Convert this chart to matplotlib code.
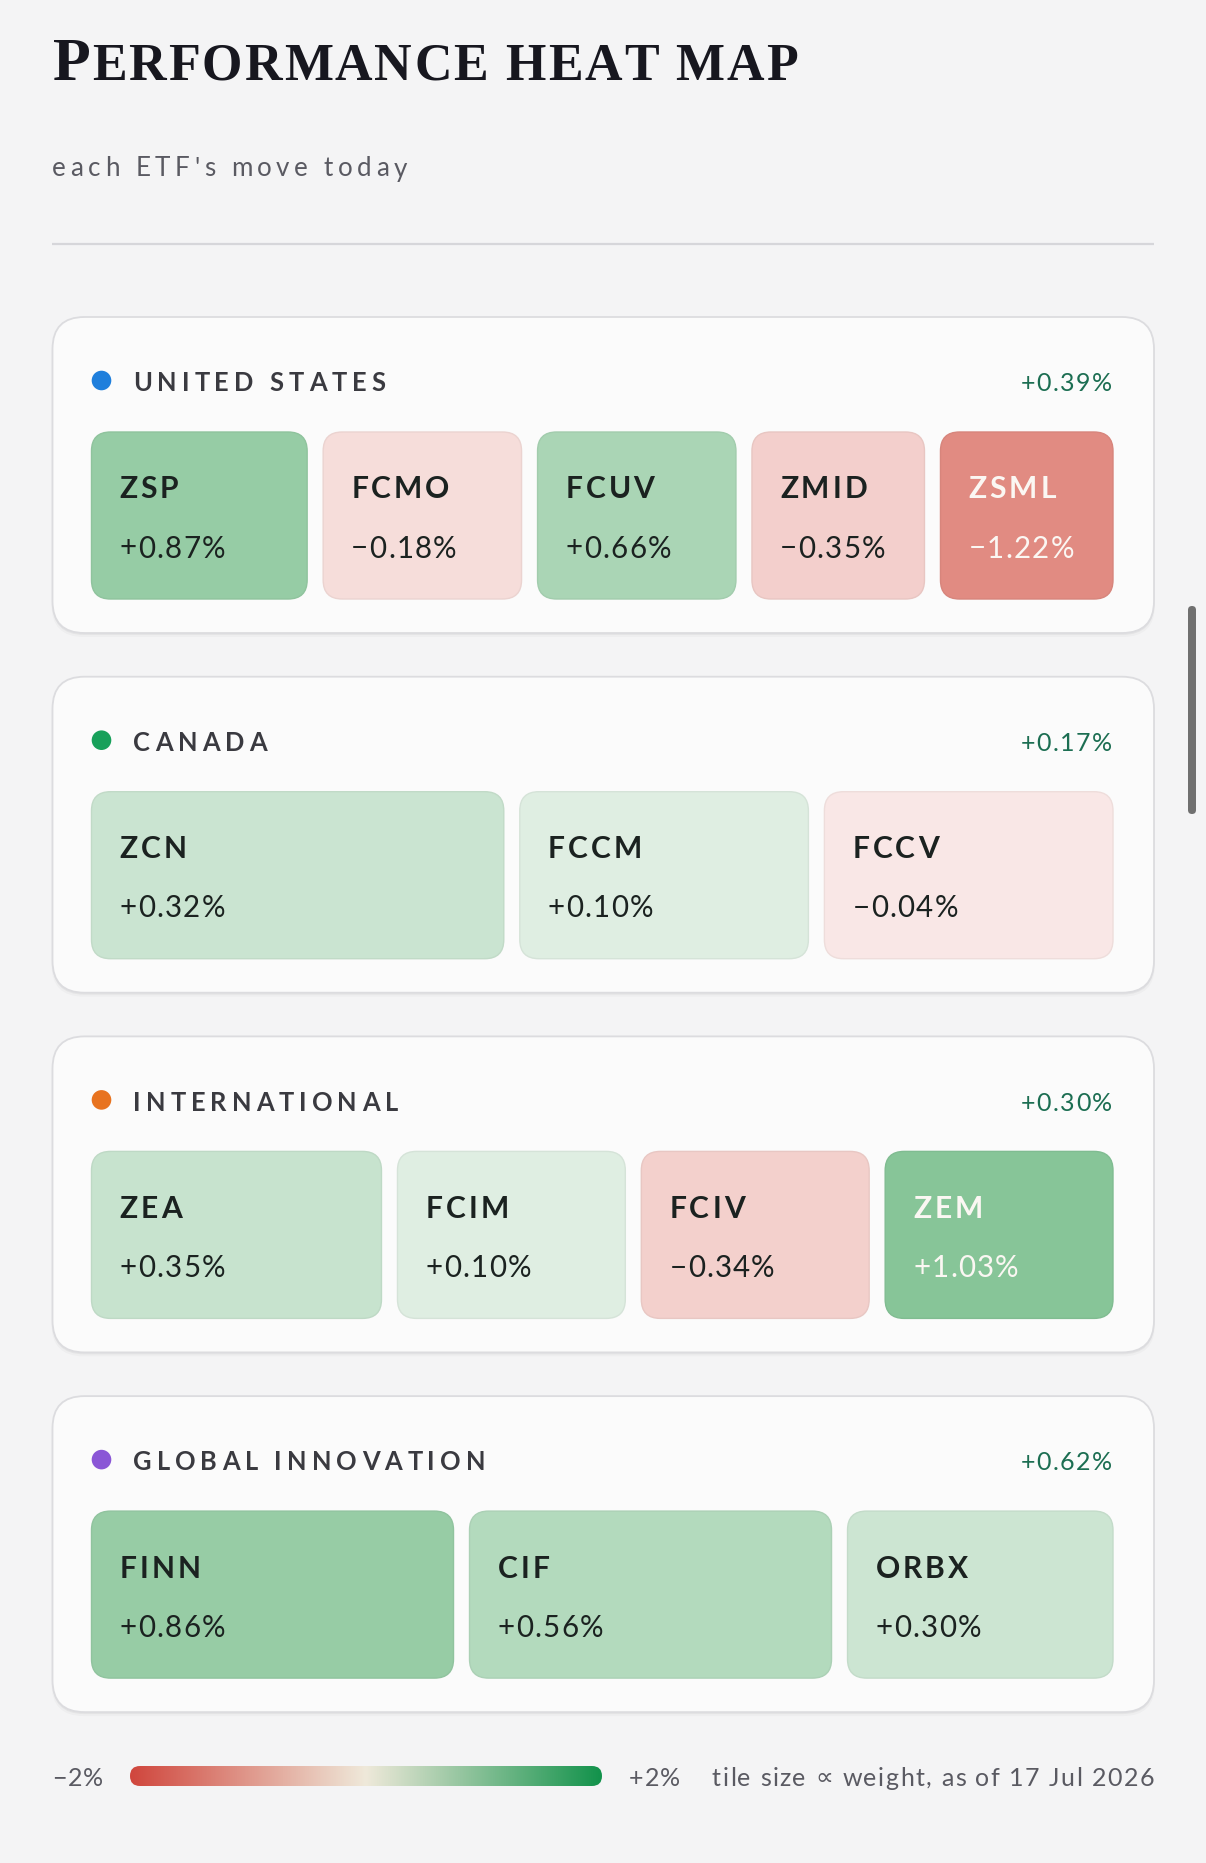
import numpy as np
import matplotlib
matplotlib.use("Agg")
import matplotlib.pyplot as plt
from matplotlib.patches import FancyBboxPatch, Circle
from matplotlib.colors import LinearSegmentedColormap, to_rgb
from matplotlib.font_manager import FontProperties, findfont, get_font

# ---------------- data ----------------
title_text = "Performance heat map"
subtitle_text = "each ETF's move today"
footnote_text = "tile size \u221d weight, as of 17 Jul 2026"
scale_min, scale_max = -2.0, 2.0

region_names = ["UNITED STATES", "CANADA", "INTERNATIONAL", "GLOBAL INNOVATION"]
region_moves = [0.39, 0.17, 0.30, 0.62]

us_tickers = ["ZSP", "FCMO", "FCUV", "ZMID", "ZSML"]
us_moves = [0.87, -0.18, 0.66, -0.35, -1.22]
us_weights = [25, 23, 23, 20, 20]

ca_tickers = ["ZCN", "FCCM", "FCCV"]
ca_moves = [0.32, 0.10, -0.04]
ca_weights = [10, 7, 7]

intl_tickers = ["ZEA", "FCIM", "FCIV", "ZEM"]
intl_moves = [0.35, 0.10, -0.34, 1.03]
intl_weights = [14, 11, 11, 11]

gi_tickers = ["FINN", "CIF", "ORBX"]
gi_moves = [0.86, 0.56, 0.30]
gi_weights = [15, 15, 11]

# ---------------- style ----------------
W, H, DPI = 1206, 1863, 100
BG = "#f4f4f5"
CARD = "#fbfbfb"
dot_colors = ["#1f7fdc", "#17a05a", "#e8731f", "#8a56d6"]
UP = np.array(to_rgb("#2a9a4a"))
DOWN = np.array(to_rgb("#d24e40"))
TILE_BASE = np.array(to_rgb("#fefcfc"))
SANS = "Lato"


def pt(px):
    return px * 72.0 / DPI


def char_adv(ch, fp):
    font = get_font(findfont(fp))
    font.set_size(fp.get_size_in_points(), DPI)
    g = font.load_char(ord(ch))
    return g.linearHoriAdvance / 65536.0


def has_glyph(ch, fp):
    font = get_font(findfont(fp))
    return font.get_char_index(ord(ch)) != 0


def spaced(ax, x, y, s, size_px, spacing=0.0, family=SANS, weight="normal",
           color="k", ha="left", width=None, zorder=5):
    items = []
    for ch in s:
        fp = None
        for fam in [family, "DejaVu Sans"]:
            cand = FontProperties(family=fam, weight=weight, size=pt(size_px))
            if has_glyph(ch, cand):
                fp = cand
                break
        if fp is None:
            fp = FontProperties(family="DejaVu Sans", weight=weight, size=pt(size_px))
        items.append((ch, fp, char_adv(ch, fp)))
    natural = sum(a for _, _, a in items)
    if width is not None and len(items) > 1:
        spacing = (width - natural) / (len(items) - 1)
    total = natural + spacing * (len(items) - 1)
    if ha == "right":
        cx = x - total
    elif ha == "center":
        cx = x - total / 2
    else:
        cx = x
    for ch, fp, adv in items:
        if ch != " ":
            ax.text(cx, y, ch, fontproperties=fp, color=color, ha="left",
                    va="baseline", zorder=zorder)
        cx += adv + spacing
    return total


def tile_color(v):
    a = min(0.1 + 0.45 * abs(v), 0.9)
    base = UP if v >= 0 else DOWN
    return tuple(TILE_BASE * (1 - a) + base * a)


def fmt(v):
    return ("+" if v >= 0 else "\u2212") + f"{abs(v):.2f}%"


fig = plt.figure(figsize=(W / DPI, H / DPI), dpi=DPI, facecolor=BG)
ax = fig.add_axes([0, 0, 1, 1])
ax.set_xlim(0, W)
ax.set_ylim(H, 0)
ax.axis("off")
ax.set_facecolor(BG)

# ---------------- header ----------------
# simulated small caps title
title_x, title_base, title_right = 53, 80, 798
p_size, sc_size = 62, 52
first = title_text[0]
rest = title_text[1:].upper()
p_fp = FontProperties(family="Liberation Serif", weight="bold", size=pt(p_size))
ax.text(title_x, title_base, first, fontproperties=p_fp, color="#17171f",
        ha="left", va="baseline")
p_w = char_adv(first, p_fp)
rest_x = title_x + p_w + 1
spaced(ax, rest_x, title_base, rest, sc_size, family="Liberation Serif", weight="bold",
       color="#17171f", width=title_right - rest_x)

spaced(ax, 52, 176.5, subtitle_text, 26, family=SANS, weight="normal",
       color="#5a5a62", width=355)
ax.plot([52, 1154], [244, 244], color="#d6d6da", lw=1.6, solid_capstyle="butt")

# ---------------- cards ----------------
groups = [
    (us_tickers, us_moves, us_weights),
    (ca_tickers, ca_moves, ca_weights),
    (intl_tickers, intl_moves, intl_weights),
    (gi_tickers, gi_moves, gi_weights),
]
card_x0, card_x1 = 52.5, 1154
card_top0, card_step, card_h = 317, 359.7, 316
inner_x0, inner_x1 = 91.5, 1113
gap = 16
tile_dy, tile_h = 115, 167

for i, (name, rmove, (tks, mvs, wts)) in enumerate(zip(region_names, region_moves, groups)):
    top = card_top0 + i * card_step
    # shadow
    for off, al, grow in [(4, 0.025, 2), (2, 0.04, 0.5)]:
        ax.add_patch(FancyBboxPatch((card_x0 - grow / 2, top + off), card_x1 - card_x0 + grow, card_h,
                                    boxstyle="round,pad=0,rounding_size=32",
                                    fc=(0, 0, 0, al), ec="none", zorder=1))
    ax.add_patch(FancyBboxPatch((card_x0, top), card_x1 - card_x0, card_h,
                                boxstyle="round,pad=0,rounding_size=32",
                                fc=CARD, ec="#dcdcdf", lw=1.3, zorder=2))
    # header
    ax.add_patch(Circle((101.5, top + 63.5), 9.8, fc=dot_colors[i], ec="none", zorder=4))
    spaced(ax, 133, top + 74.3, name, 25.5, spacing=5.0, weight="bold", color="#3a3a40")
    spaced(ax, 1112, top + 74.3, fmt(rmove), 25, spacing=1.5,
           color="#1c6e52" if rmove >= 0 else "#b0433a", ha="right")
    # tiles
    wts = np.asarray(wts, dtype=float)
    avail = (inner_x1 - inner_x0) - gap * (len(wts) - 1)
    widths = avail * wts / wts.sum()
    lefts = inner_x0 + np.concatenate([[0], np.cumsum(widths + gap)[:-1]])
    ty = top + tile_dy
    for tk, mv, lx, wd in zip(tks, mvs, lefts, widths):
        fc = tile_color(mv)
        ec = tuple(np.clip(np.array(fc) * 0.955, 0, 1))
        ax.add_patch(FancyBboxPatch((lx, ty), wd, tile_h,
                                    boxstyle="round,pad=0,rounding_size=19",
                                    fc=fc, ec=ec, lw=1.0, zorder=3))
        tc = "#fbf7f3" if abs(mv) >= 1.0 else "#1b2220"
        spaced(ax, lx + 28, ty + 66.5, tk, 30, spacing=3.0, weight="bold", color=tc)
        spaced(ax, lx + 28, ty + 125.5, fmt(mv), 29.5, spacing=1.3, color=tc)

# ---------------- legend ----------------
cmap = LinearSegmentedColormap.from_list("perf", ["#d0463d", "#efe9da", "#12924b"])
bar_x0, bar_x1, bar_y0, bar_y1 = 130, 602, 1766, 1786
grad = np.linspace(scale_min, scale_max, 512)[None, :]
im = ax.imshow(grad, cmap=cmap, vmin=scale_min, vmax=scale_max, aspect="auto",
               extent=[bar_x0, bar_x1, bar_y1, bar_y0], zorder=3, interpolation="bilinear")
clip = FancyBboxPatch((bar_x0, bar_y0), bar_x1 - bar_x0, bar_y1 - bar_y0,
                      boxstyle="round,pad=0,rounding_size=10", fc="none", ec="none",
                      transform=ax.transData)
ax.add_patch(clip)
im.set_clip_path(clip)
ax.set_xlim(0, W)
ax.set_ylim(H, 0)

spaced(ax, 52, 1785.5, f"\u2212{abs(scale_min):.0f}%", 25, spacing=1.0, color="#5a5a62")
spaced(ax, 629, 1785.5, f"+{scale_max:.0f}%", 25, spacing=1.0, color="#5a5a62")
spaced(ax, 1154, 1785.5, footnote_text, 25, color="#5a5a62", ha="right", width=442)

# scrollbar of the page
ax.add_patch(FancyBboxPatch((1188, 606), 8, 208, boxstyle="round,pad=0,rounding_size=4",
                            fc="#707070", ec="none", zorder=6))

fig.savefig("out.png", dpi=DPI, facecolor=BG)
